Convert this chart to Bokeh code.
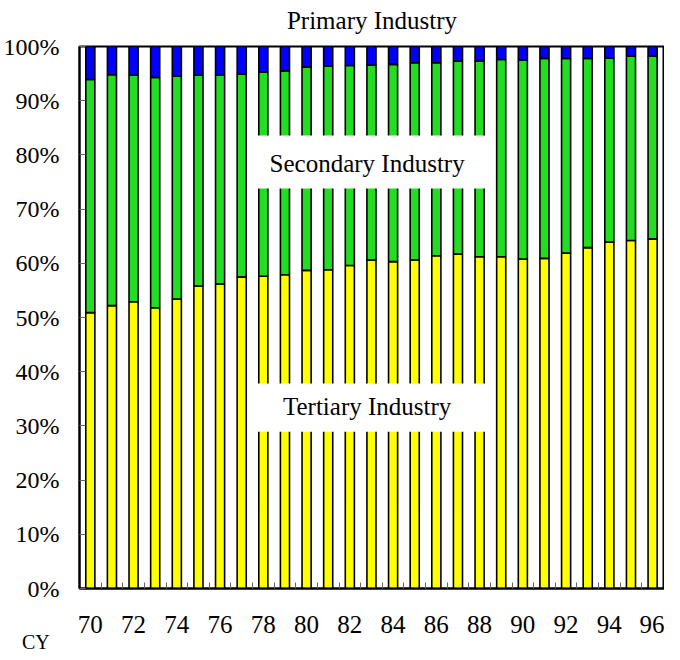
from bokeh.plotting import figure
from bokeh.models import ColumnDataSource, FixedTicker, PrintfTickFormatter, Label, BoxAnnotation, Range1d, Div
from bokeh.layouts import column
from bokeh.embed import file_html
from bokeh.resources import INLINE

years = [70, 71, 72, 73, 74, 75, 76, 77, 78, 79, 80, 81, 82, 83, 84,
         85, 86, 87, 88, 89, 90, 91, 92, 93, 94, 95, 96]
year_labels = ["70", "72", "74", "76", "78", "80", "82", "84", "86", "88", "90", "92", "94", "96"]
tertiary = [50.9, 52.2, 52.9, 51.8, 53.4, 55.8, 56.2, 57.5, 57.6, 57.9, 58.7, 58.8, 59.6, 60.6,
            60.3, 60.6, 61.4, 61.7, 61.2, 61.2, 60.8, 60.9, 61.9, 62.9, 63.9, 64.2, 64.5]
primary = [6.1, 5.2, 5.3, 5.7, 5.5, 5.3, 5.3, 5.1, 4.7, 4.5, 3.8, 3.6, 3.5, 3.4,
           3.3, 3.0, 3.0, 2.7, 2.7, 2.4, 2.5, 2.2, 2.2, 2.2, 2.1, 1.8, 1.8]
secondary = [round(100 - t - p, 1) for t, p in zip(tertiary, primary)]

FONT = "Liberation Serif"

src = ColumnDataSource(dict(
    x=years,
    t0=[0] * len(years),
    t1=tertiary,
    s1=[t + s for t, s in zip(tertiary, secondary)],
    p1=[t + s + p for t, s, p in zip(tertiary, secondary, primary)],
))

p = figure(width=670, height=660, output_backend="svg", toolbar_location=None,
           x_range=Range1d(69.5, 96.55), y_range=Range1d(0, 100),
           min_border_left=77, min_border_right=0, min_border_top=47, min_border_bottom=63,
           margin=(-9, -6, 0, 0))

p.title.text = "Primary Industry"
p.title.align = "center"
p.title.text_font = FONT
p.title.text_font_size = "25px"
p.title.text_font_style = "normal"
p.title.text_color = "black"
p.title.standoff = 26

bw = 0.42
p.vbar(x="x", bottom="t0", top="t1", width=bw, source=src,
       fill_color="#FFFF00", line_color="black", line_width=1.6)
p.vbar(x="x", bottom="t1", top="s1", width=bw, source=src,
       fill_color="#22DD22", line_color="black", line_width=1.6)
p.vbar(x="x", bottom="s1", top="p1", width=bw, source=src,
       fill_color="#0000FF", line_color="black", line_width=1.6)

p.xgrid.visible = False
p.ygrid.visible = False
p.outline_line_color = "black"
p.outline_line_width = 2
p.background_fill_color = "white"
p.border_fill_color = "white"

xa = p.xaxis[0]
xa.ticker = FixedTicker(ticks=[int(v) for v in year_labels],
                        minor_ticks=[y + 0.5 for y in years[:-1]])
xa.major_tick_in = 0
xa.major_tick_out = 0
xa.minor_tick_in = 6
xa.minor_tick_out = 0
xa.minor_tick_line_color = "#666666"
xa.axis_line_color = "black"
xa.axis_line_width = 2
xa.major_label_text_font = FONT
xa.major_label_text_font_size = "25px"
xa.major_label_text_color = "black"
xa.major_label_standoff = 27

ya = p.yaxis[0]
ya.ticker = FixedTicker(ticks=list(range(0, 101, 10)), minor_ticks=[])
ya.formatter = PrintfTickFormatter(format="%d%%")
ya.major_tick_in = 6
ya.major_tick_out = 0
ya.major_tick_line_color = "#666666"
ya.minor_tick_line_color = None
ya.axis_line_color = "black"
ya.axis_line_width = 2
ya.major_label_text_font = FONT
ya.major_label_text_font_size = "24px"
ya.major_label_text_color = "black"
ya.major_label_standoff = 20

p.add_layout(BoxAnnotation(left=77.71, right=88.30, bottom=73.8, top=83.6,
                           fill_color="white", fill_alpha=1.0, line_color=None))
p.add_layout(BoxAnnotation(left=77.71, right=88.30, bottom=28.9, top=37.8,
                           fill_color="white", fill_alpha=1.0, line_color=None))

p.add_layout(Label(x=82.8, y=78.5, text="Secondary Industry", text_font=FONT,
                   text_font_size="25px", text_align="center", text_baseline="middle",
                   text_color="black"))
p.add_layout(Label(x=82.8, y=33.5, text="Tertiary Industry", text_font=FONT,
                   text_font_size="25px", text_align="center", text_baseline="middle",
                   text_color="black"))

cy = Div(text="CY", width=40, height=14, margin=(-14, 0, -7, 22),
         styles={"font-family": "Liberation Serif", "font-size": "20px",
                 "line-height": "14px", "color": "black",
                 "position": "relative", "top": "-2px"})

layout = column(p, cy, spacing=0, margin=0)

open("out.html", "w").write(file_html(layout, INLINE))
